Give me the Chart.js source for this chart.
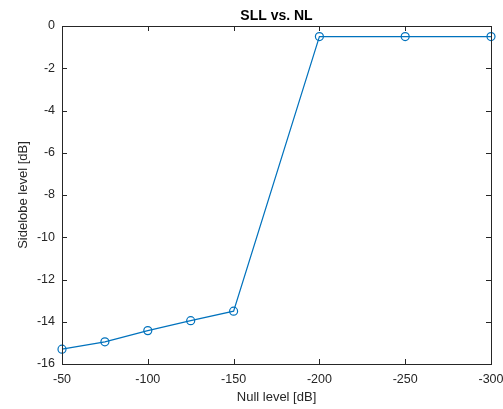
<!DOCTYPE html>
<html><head><meta charset="utf-8">
<script src="https://cdn.jsdelivr.net/npm/chart.js@4.4.1/dist/chart.umd.min.js"></script>
<style>html,body{margin:0;padding:0;background:#fff}#wrap{width:503px;height:409px}</style>
</head><body><div id="wrap"><canvas id="c" width="503" height="409"></canvas></div>
<script>
const nullLevels = [-50, -75, -100, -125, -150, -200, -250, -300];
const sidelobeLevels = [-15.3, -14.95, -14.42, -13.95, -13.5, -0.5, -0.5, -0.5];
const xTicks = [-50, -100, -150, -200, -250, -300];
const yTicks = [0, -2, -4, -6, -8, -10, -12, -14, -16];
const titleText = 'SLL vs. NL';
const xLabel = 'Null level [dB]';
const yLabel = 'Sidelobe level [dB]';

const AX = '#262626';
const FONT = 'Liberation Sans, Arial, Helvetica, sans-serif';

const frame = {
  id: 'frame',
  afterDraw(chart) {
    const {ctx, chartArea: a, scales: {x, y}} = chart;
    ctx.save();
    ctx.strokeStyle = AX; ctx.lineWidth = 1;
    ctx.strokeRect(Math.round(a.left)+0.5, Math.round(a.top)+0.5, Math.round(a.right-a.left), Math.round(a.bottom-a.top));
    const L = 5;
    ctx.beginPath();
    xTicks.forEach(v => {
      const px = Math.round(x.getPixelForValue(v)) + 0.5;
      ctx.moveTo(px, a.bottom); ctx.lineTo(px, a.bottom - L);
      ctx.moveTo(px, a.top); ctx.lineTo(px, a.top + L);
    });
    yTicks.forEach(v => {
      const py = Math.round(y.getPixelForValue(v)) + 0.5;
      ctx.moveTo(a.left, py); ctx.lineTo(a.left + L, py);
      ctx.moveTo(a.right, py); ctx.lineTo(a.right - L, py);
    });
    ctx.stroke();
    ctx.fillStyle = '#000';
    ctx.font = 'bold 14px ' + FONT;
    ctx.textAlign = 'center'; ctx.textBaseline = 'middle';
    ctx.fillText(titleText, (a.left + a.right) / 2, 16);
    ctx.restore();
  }
};

new Chart(document.getElementById('c'), {
  type: 'line',
  data: {
    datasets: [{
      data: nullLevels.map((v, i) => ({x: v, y: sidelobeLevels[i]})),
      borderColor: '#0072BD',
      backgroundColor: 'rgba(0,0,0,0)',
      borderWidth: 1.2,
      pointStyle: 'circle',
      pointRadius: 4,
      pointBorderWidth: 1.2,
      pointBorderColor: '#0072BD',
      pointBackgroundColor: 'rgba(0,0,0,0)',
      tension: 0,
      clip: false
    }]
  },
  options: {
    responsive: false,
    animation: false,
    events: [],
    layout: {padding: {top: 26, right: 12, left: 0, bottom: 0}},
    plugins: {legend: {display: false}, tooltip: {enabled: false}},
    scales: {
      x: {
        type: 'linear', reverse: true, min: -300, max: -50,
        afterBuildTicks: s => { s.ticks = xTicks.map(v => ({value: v})); },
        afterFit: s => { s.height = 45; s.paddingLeft = 0; s.paddingRight = 0; },
        grid: {display: false, drawTicks: false},
        border: {display: true, color: AX},
        ticks: {color: AX, font: {family: FONT, size: 12.5}, padding: 8, maxRotation: 0},
        title: {display: true, text: xLabel, color: AX, font: {family: FONT, size: 13}, padding: {top: 0, bottom: 4}}
      },
      y: {
        type: 'linear', min: -16, max: 0,
        afterBuildTicks: s => { s.ticks = yTicks.map(v => ({value: v})); },
        afterFit: s => { s.width = 62; s.paddingTop = 0; s.paddingBottom = 0; },
        grid: {display: false, drawTicks: false},
        border: {display: true, color: AX},
        ticks: {color: AX, font: {family: FONT, size: 12.5}, padding: 7},
        title: {display: true, text: yLabel, color: AX, font: {family: FONT, size: 13}, padding: {top: 16, bottom: 0}}
      }
    }
  },
  plugins: [frame]
});
</script></body></html>
